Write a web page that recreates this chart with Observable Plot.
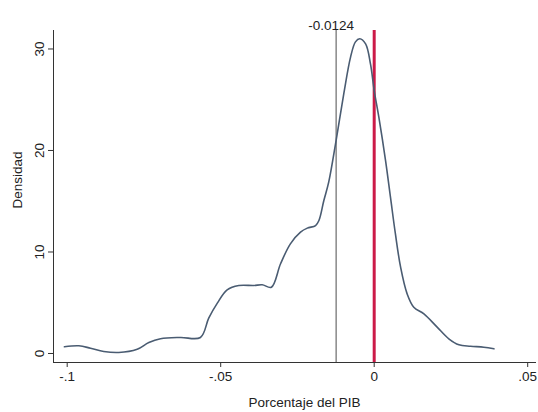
<!DOCTYPE html>
<html>
<head>
<meta charset="utf-8">
<script src="https://cdn.jsdelivr.net/npm/d3@7"></script>
<script src="https://cdn.jsdelivr.net/npm/@observablehq/plot@0.6"></script>
<style>
  html, body { margin: 0; padding: 0; background: #fff; }
  #chart svg { display: block; }
</style>
</head>
<body>
<div id="chart"></div>
<script>
// Kernel density estimate
const pctPIB = [-0.1009, -0.0962, -0.0924, -0.0881, -0.0832, -0.0772, -0.0734, -0.0696, -0.0631, -0.0566,
  -0.0539, -0.0511, -0.0479, -0.0441, -0.0392, -0.0365, -0.0335, -0.0305, -0.0273, -0.024, -0.0218,
  -0.0191, -0.018, -0.0164, -0.0148, -0.0124, -0.0099, -0.0077, -0.0061, -0.0047, -0.0028, -0.0012,
  0, 0.0015, 0.0037, 0.0053, 0.0069, 0.0086, 0.0107, 0.0129, 0.0162, 0.0205, 0.0243, 0.0276, 0.0314,
  0.0357, 0.039];
const densidad = [0.66, 0.76, 0.52, 0.2, 0.1, 0.42, 1.08, 1.45, 1.58, 1.58,
  3.48, 4.96, 6.27, 6.7, 6.7, 6.77, 6.53, 8.84, 10.8, 11.95, 12.35,
  12.6, 13.1, 15.07, 16.9, 21.0, 25.6, 29.2, 30.7, 31.0, 30.5, 28.5,
  25.9, 23.3, 19.0, 15.4, 11.8, 8.5, 5.9, 4.56, 3.9, 2.6, 1.45, 0.86, 0.72,
  0.62, 0.46];
const xTicks = [-0.1, -0.05, 0, 0.05];
const xTickLabels = ["-.1", "-.05", "0", ".05"];
const yTicks = [0, 10, 20, 30];
const media = [-0.0124];
const cero = [0];
const xTitle = ["Porcentaje del PIB"];
const yTitle = ["Densidad"];

const data = pctPIB.map((x, i) => ({x, y: densidad[i]}));
const FS = 13.5;

const chart = Plot.plot({
  width: 538,
  height: 412,
  marginLeft: 53,
  marginRight: 3,
  marginTop: 30,
  marginBottom: 50,
  style: {fontFamily: "'Liberation Sans', Arial, sans-serif", fontSize: FS + "px", color: "#222"},
  x: {domain: [-0.10446, 0.05254]},
  y: {domain: [-0.887, 31.82]},
  marks: [
    Plot.axisX({
      ticks: xTicks,
      tickFormat: (d) => xTickLabels[xTicks.indexOf(d)],
      tickSize: 5,
      tickPadding: 4,
      fontSize: FS,
      label: null,
      stroke: "#333"
    }),
    Plot.axisY({
      ticks: yTicks,
      tickSize: 5,
      tickPadding: 9,
      tickRotate: -90,
      textAnchor: "middle",
      lineAnchor: "middle",
      fontSize: FS,
      label: null,
      stroke: "#333"
    }),
    Plot.text(xTitle, {frameAnchor: "bottom", text: (d) => d, dy: 44, dx: 10, fontSize: FS, fill: "#222"}),
    Plot.text(yTitle, {frameAnchor: "left", text: (d) => d, rotate: -90, dx: -36, dy: 12, fontSize: FS, fill: "#222"}),
    Plot.frame({anchor: "left", stroke: "#333"}),
    Plot.frame({anchor: "bottom", stroke: "#333"}),
    Plot.ruleX(media, {stroke: "#6a6a6a", strokeWidth: 1.2}),
    Plot.ruleX(cero, {stroke: "#cc1a48", strokeWidth: 3}),
    Plot.line(data, {x: "x", y: "y", curve: "catmull-rom", stroke: "#4a5c72", strokeWidth: 1.6}),
    Plot.text(media, {x: (d) => d, frameAnchor: "top", dy: -10, text: (d) => d.toFixed(4), fontSize: FS, fill: "#222", dx: -5})
  ]
});
document.getElementById("chart").append(chart);
</script>
</body>
</html>
